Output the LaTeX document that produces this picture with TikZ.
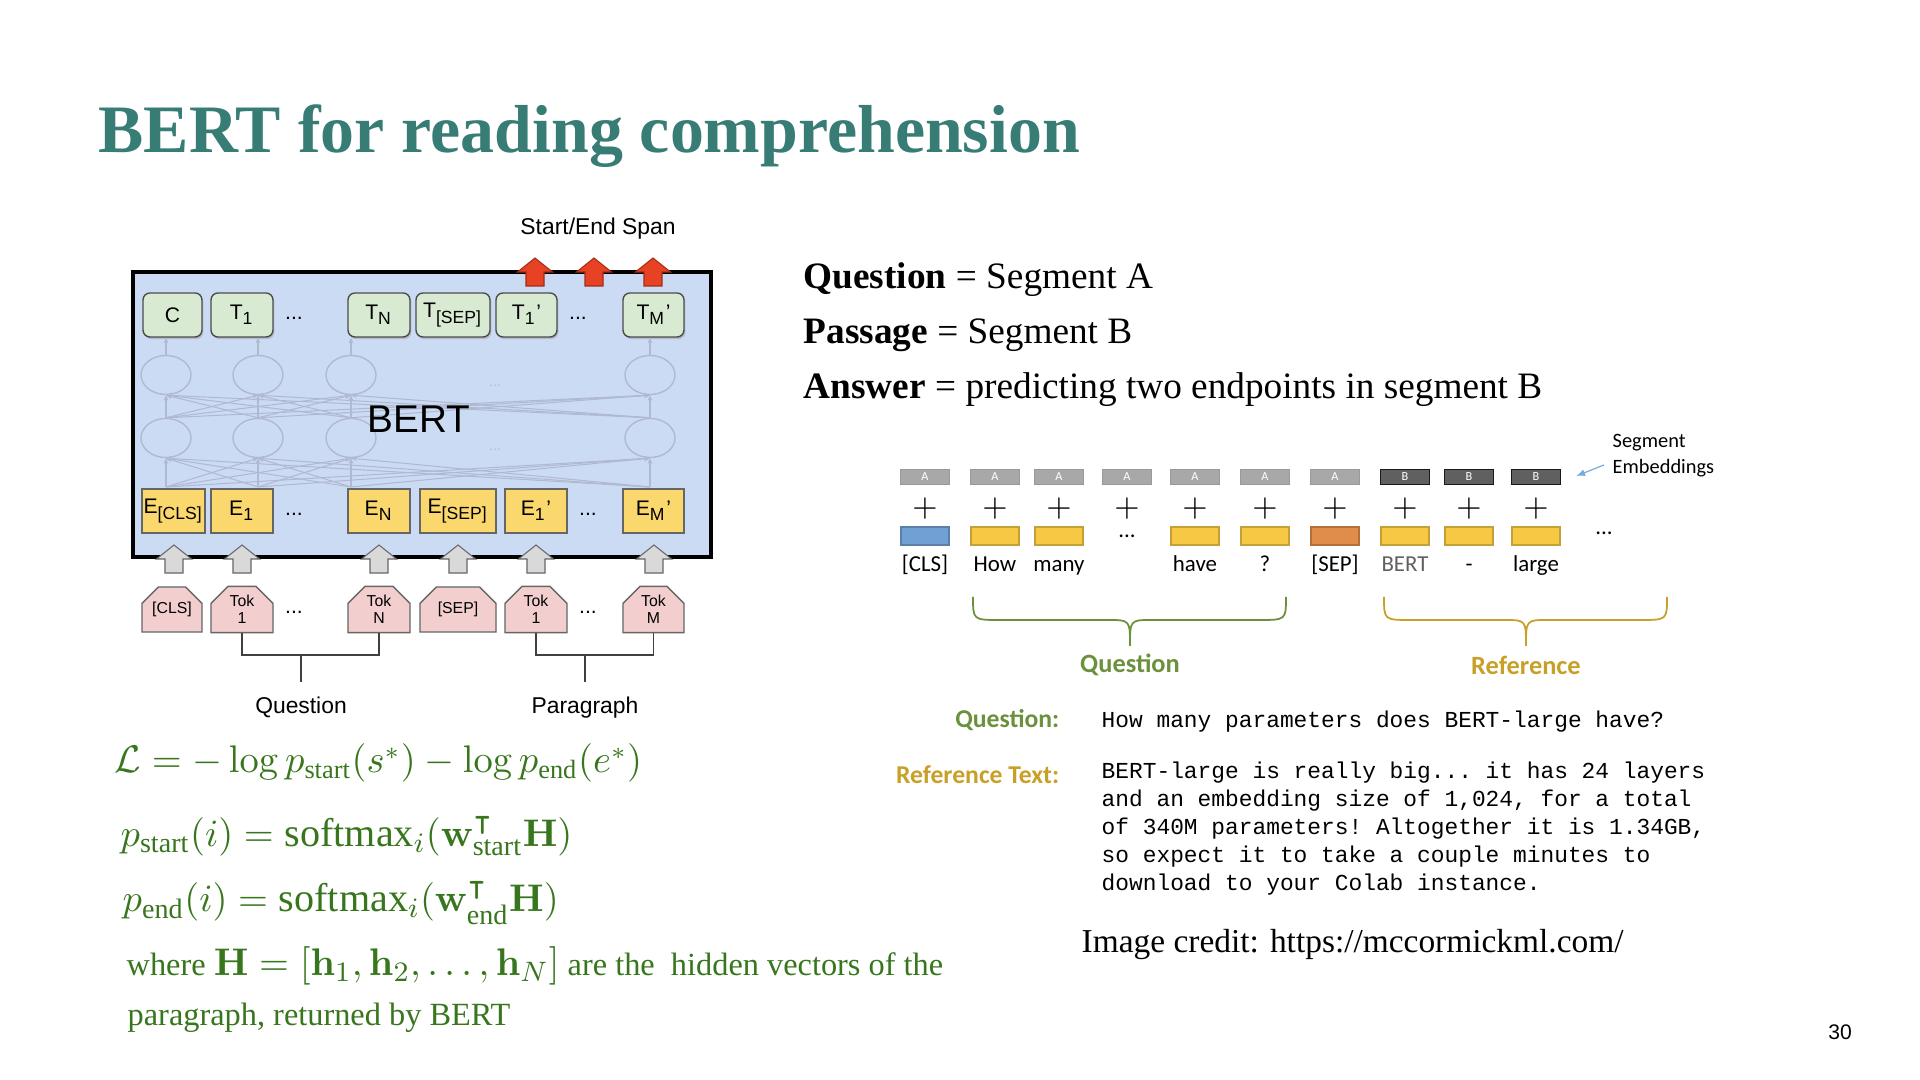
\documentclass[tikz,border=0pt]{standalone}
\usepackage{amsmath,amssymb}
\usepackage[no-math]{fontspec}
\setmainfont{Liberation Serif}
\setsansfont{Liberation Sans}
\setmonofont{Liberation Mono}
\newfontfamily\calibri{Carlito}
\usetikzlibrary{arrows.meta,positioning,shapes.geometric,shapes.misc,shadows}
\definecolor{titleTeal}{RGB}{56,124,118}
\definecolor{eqGreen}{RGB}{56,118,29}
\definecolor{bertBlue}{RGB}{204,219,244}
\definecolor{outGreen}{RGB}{217,234,211}
\definecolor{embYellow}{RGB}{250,216,110}
\definecolor{tokPink}{RGB}{242,206,206}
\definecolor{spanRed}{RGB}{232,66,36}
\definecolor{inGray}{RGB}{217,217,217}
\definecolor{netGray}{RGB}{175,186,208}
\definecolor{segA}{RGB}{168,168,168}
\definecolor{segB}{RGB}{96,96,96}
\definecolor{clsBlue}{RGB}{112,160,212}
\definecolor{wordYellow}{RGB}{246,200,68}
\definecolor{sepOrange}{RGB}{224,140,74}
\definecolor{qGreen}{RGB}{108,145,60}
\definecolor{refGold}{RGB}{200,160,40}
\definecolor{arrowBlue}{RGB}{120,170,222}

\begin{document}
\begin{tikzpicture}[x=0.01cm, y=-0.01cm,
  txt/.style={inner sep=0pt, anchor=base west},
  sanslbl/.style={font=\sffamily\fontsize{6.5}{7.5}\selectfont},
  tbox/.style={draw=black!70, fill=outGreen, rounded corners=2pt, minimum height=0.44cm,
    inner sep=0pt, drop shadow={shadow xshift=0.4pt, shadow yshift=-0.6pt, opacity=0.35},
    font=\sffamily\fontsize{6}{7}\selectfont},
  ebox/.style={draw=black!60, fill=embYellow, minimum height=0.44cm, inner sep=0pt,
    font=\sffamily\fontsize{6}{7}\selectfont},
  tokbox/.style={chamfered rectangle, chamfered rectangle corners={north west,north east},
    chamfered rectangle xsep=0.08cm, chamfered rectangle ysep=0.09cm,
    draw=black!60, fill=tokPink, minimum height=0.45cm, inner sep=0pt, align=center,
    font=\sffamily\fontsize{4.5}{4.8}\selectfont},
  dots/.style={font=\sffamily\fontsize{6}{7}\selectfont},
  neuron/.style={ellipse, draw=netGray, fill=bertBlue, minimum width=0.5cm, minimum height=0.39cm, inner sep=0pt},
  netline/.style={draw=netGray, line width=0.3pt, -{Stealth[length=1.6pt,width=1.4pt]}},
  bracket/.style={draw=black!75, line width=0.35pt},
  blockarrow/.pic={\path[pic actions] (-9,14) -- (-9,0) -- (-17.5,0) -- (0,-14) -- (17.5,0) -- (9,0) -- (9,14) -- cycle;},
  segbox/.style={minimum width=0.49cm, minimum height=0.15cm, inner sep=0pt, text=white,
    font=\calibri\fontsize{3.5}{4}\selectfont},
  wordbox/.style={minimum width=0.48cm, minimum height=0.18cm, inner sep=0pt, line width=0.4pt},
  wordlbl/.style={font=\calibri\fontsize{6.5}{7.5}\selectfont},
  monotxt/.style={txt, font=\ttfamily\fontsize{6.5}{7.9}\selectfont},
  eqtxt/.style={txt, text=eqGreen, font=\fontsize{11.4}{13}\selectfont}]
\useasboundingbox (0,0) rectangle (1920,1080);

% title
\node[txt, text=titleTeal, font=\bfseries\fontsize{19.3}{22}\selectfont] (title) at (98,153) {BERT for reading comprehension};

% BERT box
\node[draw=black, line width=1pt, fill=bertBlue, minimum width=5.78cm, minimum height=2.85cm] (bertbox) at (422,414.5) {};
\node[sanslbl] (spanlbl) at (598,229) {Start/End Span};
\foreach \x in {535,594,653}
  \pic[draw=spanRed!70!black, line width=0.3pt, fill=spanRed] at (\x,272) {blockarrow};

% network inside
\foreach \x [count=\i] in {166,258,351,650} {
  \coordinate (base\i) at (\x,487);
  \node[neuron] (lo\i) at (\x,438) {};
  \node[neuron] (up\i) at (\x,375) {};
}
\foreach \i in {1,...,4}
  \foreach \j in {1,...,4} {
    \draw[netline] (base\i) -- (lo\j.south);
    \draw[netline] (lo\i.north) -- (up\j.south);
  }
\node[text=netGray, font=\sffamily\fontsize{4}{5}\selectfont] (ndots1) at (495,386) {...};
\node[text=netGray, font=\sffamily\fontsize{4}{5}\selectfont] (ndots2) at (495,450) {...};
\node[font=\sffamily\fontsize{11}{13}\selectfont] (bertlbl) at (419,419) {BERT};

% output row
\foreach \n/\x/\w/\t in {c/172.5/0.59cm/C, t1/242/0.62cm/{T\textsubscript{1}}, tn/379/0.62cm/{T\textsubscript{N}},
    tsep/453/0.74cm/{T\textsubscript{[SEP]}}, tp1/526.5/0.61cm/{T\textsubscript{1}’}, tpm/653.5/0.61cm/{T\textsubscript{M}’}}
  \node[tbox, minimum width=\w] (\n) at (\x,315) {\t};
\node[dots] (tdots1) at (294,318) {...};
\node[dots] (tdots2) at (578,318) {...};
\foreach \i/\t in {1/c,2/t1,3/tn,4/tpm}
  \draw[netline] (up\i.north) -- (up\i.north |- \t.south);

% embedding row
\foreach \n/\x/\w/\t in {ecls/173.5/0.63cm/{E\textsubscript{[CLS]}}, e1/242/0.62cm/{E\textsubscript{1}}, en/379/0.62cm/{E\textsubscript{N}},
    esep/458/0.76cm/{E\textsubscript{[SEP]}}, ep1/536/0.62cm/{E\textsubscript{1}’}, epm/653.5/0.61cm/{E\textsubscript{M}’}}
  \node[ebox, minimum width=\w] (\n) at (\x,511) {\t};
\node[dots] (edots1) at (294,514) {...};
\node[dots] (edots2) at (588,514) {...};

% input tokens
\foreach \n/\x/\w/\t in {tcls/172/0.60cm/{[CLS]}, tok1/242/0.62cm/{Tok\\1}, tokn/379/0.62cm/{Tok\\N},
    tsepin/458/0.76cm/{[SEP]}, tokp1/536/0.62cm/{Tok\\1}, tokm/653.5/0.61cm/{Tok\\M}}
  \node[tokbox, minimum width=\w] (\n) at (\x,609.5) {\t};
\node[dots] (kdots1) at (294,612) {...};
\node[dots] (kdots2) at (588,612) {...};
\foreach \x in {174,242,379,458,536,654}
  \pic[draw=black!60, line width=0.3pt, fill=inGray] at (\x,559) {blockarrow};

% question / paragraph brackets
\coordinate (qjoin) at (301,655);
\coordinate (pjoin) at (585,655);
\node[sanslbl, anchor=north, inner sep=0.1cm] (qlbl) at (301,686) {Question};
\node[sanslbl, anchor=north, inner sep=0.1cm] (plbl) at (585,686) {Paragraph};
\draw[bracket] (tok1.south) |- (qjoin) -| (tokn.south);
\draw[bracket] (qjoin) -- ([yshift=0.04cm]qlbl.north);
\draw[bracket] (tokp1.south) |- (pjoin) -| (tokm.south);
\draw[bracket] (pjoin) -- ([yshift=0.04cm]plbl.north);

% loss and softmax
\node[eqtxt, font=\fontsize{10.7}{13}\selectfont] (loss) at (114,773) {$\mathcal{L} = -\log p_{\text{start}}(s^*) - \log p_{\text{end}}(e^*)$};
\node[eqtxt] (pstart) at (120,847) {$p_{\text{start}}(i) = \text{softmax}_i(\mathbf{w}^{\intercal}_{\text{start}}\mathbf{H})$};
\node[eqtxt] (pend) at (122,912) {$p_{\text{end}}(i) = \text{softmax}_i(\mathbf{w}^{\intercal}_{\text{end}}\mathbf{H})$};
\node[eqtxt, font=\fontsize{9.2}{11}\selectfont] (where1) at (126,976) {where {\fontsize{10.9}{12}\selectfont$\mathbf{H} = [\mathbf{h}_1, \mathbf{h}_2, \ldots, \mathbf{h}_N]$} are the\ \ hidden vectors of the};
\node[eqtxt, font=\fontsize{9.2}{11}\selectfont] (where2) at (127,1026) {paragraph, returned by BERT};

% segments
\node[txt, font=\fontsize{10.6}{12}\selectfont] (segq) at (803,289) {\textbf{Question} = Segment A};
\node[txt, font=\fontsize{10.6}{12}\selectfont] (segp) at (803,344) {\textbf{Passage} = Segment B};
\node[txt, font=\fontsize{10.6}{12}\selectfont] (sega) at (803,399) {\textbf{Answer} = predicting two endpoints in segment B};

\foreach \x [count=\i] in {925,995,1059,1127,1195,1265,1335}
  \node[segbox, fill=segA, draw=black!40] (seg\i) at (\x,477) {A};
\foreach \x [count=\i from 8] in {1405,1469,1536}
  \node[segbox, fill=segB, draw=black!90] (seg\i) at (\x,477) {B};
\foreach \x [count=\i] in {925,995,1059,1127,1195,1265,1335,1405,1469,1536}
  \node[font=\fontsize{9}{10}\selectfont] (plus\i) at (\x,509) {$+$};
\foreach \i/\x/\c in {1/925/clsBlue, 2/995/wordYellow, 3/1059/wordYellow, 5/1195/wordYellow, 6/1265/wordYellow,
    7/1335/sepOrange, 8/1405/wordYellow, 9/1469/wordYellow, 10/1536/wordYellow}
  \node[wordbox, fill=\c, draw=\c!80!black] (word\i) at (\x,536) {};
\node[wordlbl] (wdots1) at (1127,536) {...};
\node[wordlbl] (wdots2) at (1604,533) {...};
\foreach \i/\x/\t in {1/925/{[CLS]}, 2/995/How, 3/1059/many, 5/1195/have, 6/1265/?, 7/1335/{[SEP]},
    8/1405/{\textcolor{segB}{BERT}}, 9/1469/-, 10/1536/large}
  \node[wordlbl, anchor=base] (lbl\i) at (\x,572) {\t};
\node[wordlbl, align=left, anchor=west, inner sep=0pt, font=\calibri\fontsize{5.8}{7.4}\selectfont] (segname) at (1612,456) {Segment\\Embeddings};
\draw[draw=arrowBlue, line width=0.35pt, -{Latex[length=2.5pt,width=2pt]}] ([xshift=-0.08cm,yshift=-0.09cm]segname.west) -- ([xshift=0.15cm,yshift=0.01cm]seg10.east);

% braces
\draw[qGreen, line width=0.5pt] (973,597) .. controls (973,620) .. (1000,620) -- (1108,620) .. controls (1130,620) .. (1130,646)
  .. controls (1130,620) .. (1152,620) -- (1259,620) .. controls (1286,620) .. (1286,597);
\draw[refGold, line width=0.5pt] (1384,597) .. controls (1384,620) .. (1411,620) -- (1504,620) .. controls (1526,620) .. (1526,646)
  .. controls (1526,620) .. (1548,620) -- (1640,620) .. controls (1667,620) .. (1667,597);
\node[text=qGreen, font=\calibri\bfseries\fontsize{7.5}{9}\selectfont] (qname) at (1130,665) {Question};
\node[text=refGold, font=\calibri\bfseries\fontsize{7.5}{9}\selectfont] (rname) at (1526,665) {Reference};

% example text
\node[anchor=east, inner sep=0pt, text=qGreen, font=\calibri\bfseries\fontsize{7.3}{9}\selectfont] (qhead) at (1060,720) {Question:};
\node[anchor=east, inner sep=0pt, text=refGold, font=\calibri\bfseries\fontsize{7.3}{9}\selectfont] (rhead) at (1060,775) {Reference Text:};
\node[monotxt] (qtext) at (1101,728) {How many parameters does BERT-large have?};
\node[monotxt] (rtext1) at (1101,779) {BERT-large is really big... it has 24 layers};
\node[monotxt] (rtext2) at (1101,806.8) {and an embedding size of 1,024, for a total};
\node[monotxt] (rtext3) at (1101,834.6) {of 340M parameters! Altogether it is 1.34GB,};
\node[monotxt] (rtext4) at (1101,862.4) {so expect it to take a couple minutes to};
\node[monotxt] (rtext5) at (1101,890.2) {download to your Colab instance.};

\node[txt, font=\fontsize{9.5}{11}\selectfont] (credit) at (1081,953) {Image credit: https://mccormickml.com/};
\node[font=\sffamily\fontsize{6}{7}\selectfont] (pagenum) at (1840,1032) {30};
\end{tikzpicture}
\end{document}
